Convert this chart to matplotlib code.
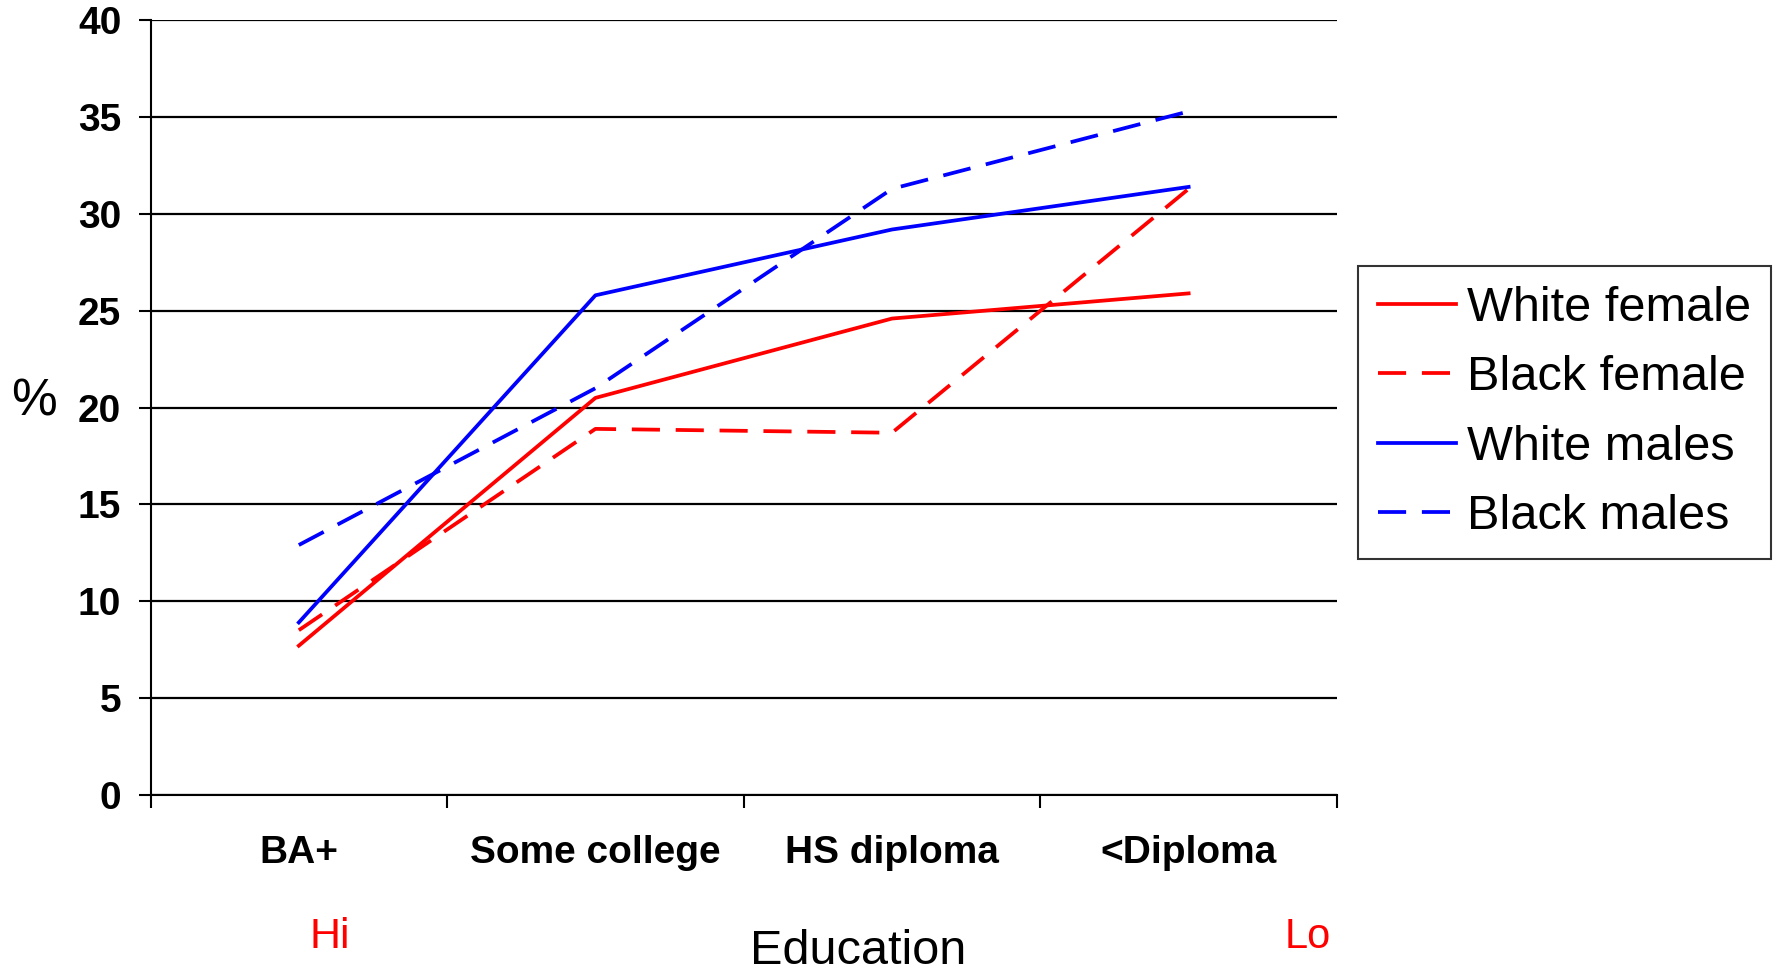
import matplotlib
matplotlib.use("Agg")
import matplotlib.pyplot as plt

categories = ["BA+", "Some college", "HS diploma", "<Diploma"]
white_female = [7.7, 20.5, 24.6, 25.9]
black_female = [8.5, 18.9, 18.7, 31.3]
white_males = [8.9, 25.8, 29.2, 31.4]
black_males = [12.9, 21.0, 31.3, 35.3]
yticks = [0, 5, 10, 15, 20, 25, 30, 35, 40]

plt.rcParams['font.family'] = ['Liberation Sans', 'DejaVu Sans']

fig = plt.figure(figsize=(17.75, 9.73), dpi=100)
ax = fig.add_axes([0.0848, 0.1832, 0.6684, 0.7958])

x = [i + 0.5 for i in range(len(categories))]
lw = 2.7
dash = (0, (7.5, 4.2))
ax.plot(x, white_female, color='#ff0000', lw=lw, label='White female')
ax.plot(x, black_female, color='#ff0000', lw=lw, ls=dash, label='Black female')
ax.plot(x, white_males, color='#0000ff', lw=lw, label='White males')
ax.plot(x, black_males, color='#0000ff', lw=lw, ls=dash, label='Black males')

ax.set_xlim(0, len(categories))
ax.set_ylim(0, 40)
ax.set_yticks(yticks)
ax.set_yticklabels([str(v) for v in yticks], fontsize=28, fontweight='bold')
ax.set_xticks(range(len(categories) + 1))
ax.set_xticklabels([])
ax.set_xticks(x, minor=True)
ax.set_xticklabels(categories, minor=True, fontsize=28, fontweight='bold')
ax.tick_params(axis='x', which='major', length=9, width=1.5, direction='out')
ax.tick_params(axis='x', which='minor', length=0, pad=29)
ax.tick_params(axis='y', which='major', length=9, width=1.5, pad=12)

ax.yaxis.grid(True, color='black', lw=1.6)
ax.set_axisbelow(True)
for s in ['top', 'right']:
    ax.spines[s].set_visible(False)
for s in ['left', 'bottom']:
    ax.spines[s].set_color('black')
    ax.spines[s].set_linewidth(1.5)

leg = fig.legend(loc='upper left', bbox_to_anchor=(0.765, 0.727), fontsize=35,
                 frameon=True, fancybox=False, edgecolor='black',
                 handlelength=1.6, handletextpad=0.22, labelspacing=0.5,
                 borderpad=0.42, borderaxespad=0)
leg.get_frame().set_linewidth(1.5)

fig.text(0.019, 0.587, '%', fontsize=37, ha='center', va='center')
fig.text(0.186, 0.037, 'Hi', fontsize=31, color='#ff0000', ha='center', va='center')
fig.text(0.7366, 0.037, 'Lo', fontsize=30, color='#ff0000', ha='center', va='center')
fig.text(0.4834, 0.022, 'Education', fontsize=35, ha='center', va='center')

fig.savefig('out.png', dpi=100)
